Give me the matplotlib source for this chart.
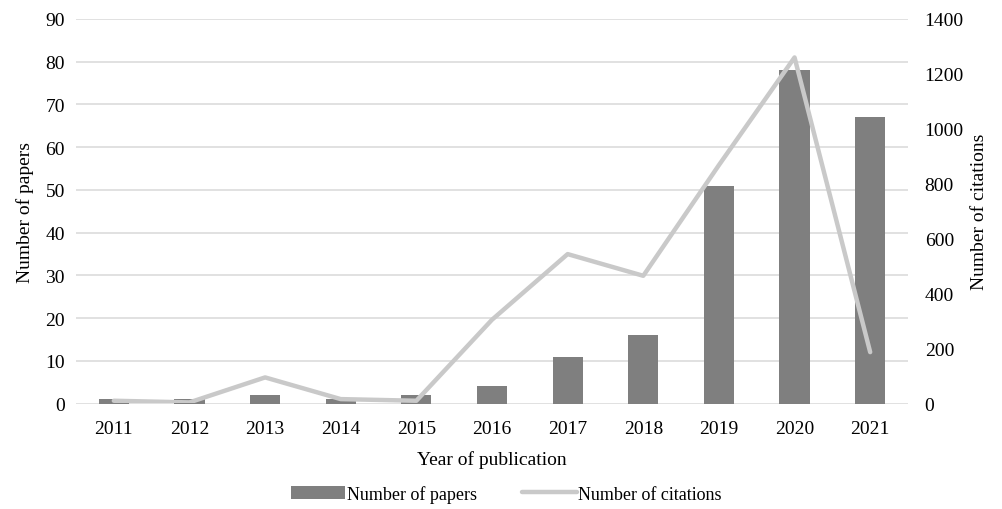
import matplotlib.pyplot as plt
import matplotlib.patches as mpatches
import matplotlib.lines as mlines
import numpy as np

plt.rcParams['font.family'] = ['Liberation Serif', 'DejaVu Serif']

years = ['2011', '2012', '2013', '2014', '2015', '2016', '2017', '2018', '2019', '2020', '2021']
papers = [1, 1, 2, 1, 2, 4, 11, 16, 51, 78, 67]
citations = [10, 4, 95, 16, 10, 305, 544, 465, 868, 1260, 187]

bar_color = '#7f7f7f'
line_color = '#c9c9c9'
grid_color = '#d9d9d9'
fs = 14

fig = plt.figure(figsize=(10.03, 5.10), dpi=100)
ax = fig.add_axes([76 / 1003, 1 - 404.5 / 510, (908 - 76) / 1003, (404.5 - 20) / 510])
x = np.arange(len(years))

ax.bar(x, papers, width=0.4, color=bar_color, zorder=2)
ax.set_ylim(0, 90)
ax.set_yticks(range(0, 91, 10))
ax.set_xlim(-0.5, len(years) - 0.5)
ax.set_xticks(x)
ax.set_xticklabels(years)
ax.yaxis.grid(True, color=grid_color, linewidth=1.1, zorder=0)
ax.set_axisbelow(True)
for s in ax.spines.values():
    s.set_visible(False)
ax.tick_params(length=0, labelsize=fs, pad=8)
ax.tick_params(axis='x', pad=12)
ax.set_ylabel('Number of papers', fontsize=fs, labelpad=8)
ax.set_xlabel('Year of publication', fontsize=fs, labelpad=9)

ax2 = ax.twinx()
ax2.plot(x, citations, color=line_color, linewidth=3.2, solid_capstyle='round', zorder=3)
ax2.set_ylim(0, 1400)
ax2.set_yticks(range(0, 1401, 200))
for s in ax2.spines.values():
    s.set_visible(False)
ax2.tick_params(length=0, labelsize=fs, pad=12)
ax2.set_ylabel('Number of citations', fontsize=fs, labelpad=5)

handles = [mpatches.Rectangle((0, 0), 1, 1, facecolor=bar_color, edgecolor='none'),
           mlines.Line2D([], [], color=line_color, linewidth=3.2, solid_capstyle='round')]
fig.legend(handles, ['Number of papers', 'Number of citations'], loc='center',
           bbox_to_anchor=(0.505, 0.03), ncol=2, frameon=False, fontsize=13,
           handlelength=3.0, handletextpad=0.1, columnspacing=2.5)

fig.savefig('out.png', dpi=100)
